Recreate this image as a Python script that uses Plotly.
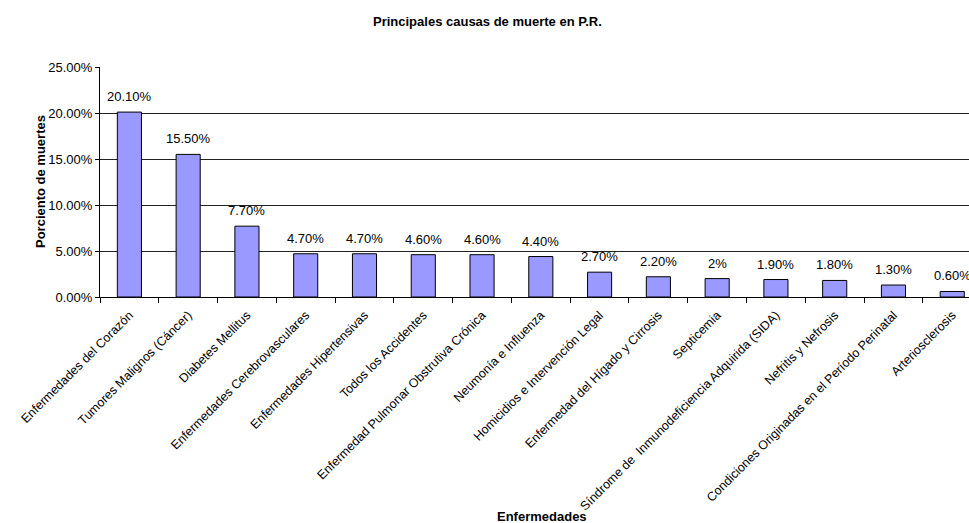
import plotly.graph_objects as go

# Leading causes of death in Puerto Rico (percent of all deaths)
causas = [
    "Enfermedades del Corazón",
    "Tumores Malignos (Cáncer)",
    "Diabetes Mellitus",
    "Enfermedades Cerebrovasculares",
    "Enfermedades Hipertensivas",
    "Todos los Accidentes",
    "Enfermedad Pulmonar Obstrutiva Crónica",
    "Neumonía e Influenza",
    "Homicidios e Intervención Legal",
    "Enfermedad del Hígado y Cirrosis",
    "Septicemia",
    "Síndrome de  Inmunodeficiencia Adquirida (SIDA)",
    "Nefritis y Nefrosis",
    "Condiciones Originadas en el Período Perinatal",
    "Arteriosclerosis",
]
porcientos = [20.1, 15.5, 7.7, 4.7, 4.7, 4.6, 4.6, 4.4, 2.7, 2.2, 2.0, 1.9, 1.8, 1.3, 0.6]
etiquetas = ["20.10%", "15.50%", "7.70%", "4.70%", "4.70%", "4.60%", "4.60%", "4.40%",
             "2.70%", "2.20%", "2%", "1.90%", "1.80%", "1.30%", "0.60%"]
y_ticks = [0, 5, 10, 15, 20, 25]
y_tick_labels = ["0.00%", "5.00%", "10.00%", "15.00%", "20.00%", "25.00%"]

FONT = "Liberation Sans, Arial, sans-serif"

fig = go.Figure()
fig.add_trace(go.Bar(
    x=causas,
    y=porcientos,
    marker=dict(color="#9999FF", line=dict(color="#000000", width=1)),
    width=0.41,
    hoverinfo="x+y",
))

# value labels above each bar
for c, v, t in zip(causas, porcientos, etiquetas):
    fig.add_annotation(x=c, y=v, text=t, showarrow=False, xref="x", yref="y",
                       yanchor="bottom", yshift=6,
                       font=dict(family=FONT, size=13, color="#000000"))

fig.update_layout(
    width=969, height=523,
    margin=dict(l=100, r=0, t=67, b=226, pad=0),
    paper_bgcolor="#FFFFFF",
    plot_bgcolor="#FFFFFF",
    showlegend=False,
    font=dict(family=FONT, size=13, color="#000000"),
)

fig.update_xaxes(
    type="category",
    range=[-0.5, 14.285],
    tickangle=-45,
    ticks="outside", ticklen=5, tickcolor="#000000", tickwidth=1,
    tickson="boundaries",
    ticklabelstandoff=5,
    showline=True, linecolor="#000000", linewidth=1,
    showgrid=False,
    tickfont=dict(family=FONT, size=12.5, color="#000000"),
)
fig.update_yaxes(
    range=[0, 25],
    tickvals=y_ticks, ticktext=y_tick_labels,
    ticks="outside", ticklen=4, tickcolor="#000000", tickwidth=1,
    showline=True, linecolor="#000000", linewidth=1,
    showgrid=True, gridcolor="#222222", gridwidth=1,
    zeroline=False,
    tickfont=dict(family=FONT, size=13, color="#000000"),
)

# chart and axis titles
fig.add_annotation(text="<b>Principales causas de muerte en P.R.</b>", xref="paper", yref="paper",
                   x=(487 - 100) / 869, y=(297 - 21) / 230, xanchor="center", yanchor="middle",
                   showarrow=False, font=dict(family=FONT, size=13, color="#000000"))
fig.add_annotation(text="<b>Porciento de muertes</b>", xref="paper", yref="paper",
                   x=(40 - 100) / 869, y=0.5, xanchor="center", yanchor="middle",
                   textangle=-90, showarrow=False, font=dict(family=FONT, size=13, color="#000000"))
fig.add_annotation(text="<b>Enfermedades</b>", xref="paper", yref="paper",
                   x=(542 - 100) / 869, y=(297 - 516) / 230, xanchor="center", yanchor="middle",
                   showarrow=False, font=dict(family=FONT, size=13, color="#000000"))

fig.write_html("out.html")
